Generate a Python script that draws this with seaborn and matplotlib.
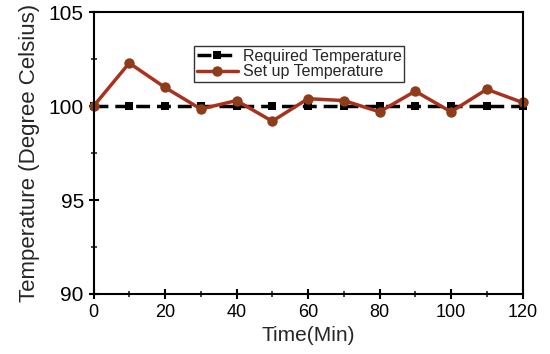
import matplotlib
matplotlib.use("Agg")
import matplotlib.pyplot as plt
import pandas as pd
import seaborn as sns
from matplotlib.ticker import MultipleLocator

# Data
time_min = [0, 10, 20, 30, 40, 50, 60, 70, 80, 90, 100, 110, 120]
required_temp = [100] * 13
setup_temp = [100.0, 102.3, 101.0, 99.85, 100.3, 99.2, 100.4, 100.3, 99.7, 100.8, 99.7, 100.9, 100.2]

df = pd.DataFrame({"time": time_min, "required": required_temp, "setup": setup_temp})

sns.set_style("ticks")
plt.rcParams['font.family'] = ['Liberation Sans', 'DejaVu Sans']

fig, ax = plt.subplots(figsize=(5.5, 3.54), dpi=100)

sns.lineplot(data=df, x="time", y="required", ax=ax, color="black", linewidth=2.5,
             linestyle=(0, (4, 2)), marker="s", markersize=6, markeredgewidth=0,
             label="Required Temperature", clip_on=False)
sns.lineplot(data=df, x="time", y="setup", ax=ax, color="#A8321E", linewidth=2.5,
             marker="o", markersize=7.5, markerfacecolor="#8e3d1a", markeredgewidth=0,
             label="Set up Temperature", clip_on=False)

ax.set_xlim(0, 120)
ax.set_ylim(90, 105)
ax.xaxis.set_major_locator(MultipleLocator(20))
ax.xaxis.set_minor_locator(MultipleLocator(10))
ax.yaxis.set_major_locator(MultipleLocator(5))
ax.yaxis.set_minor_locator(MultipleLocator(2.5))
ax.tick_params(which="major", direction="inout", length=7, width=1.5, colors="black")
ax.tick_params(axis="x", which="major", labelsize=13)
ax.tick_params(axis="y", which="major", labelsize=15)
ax.tick_params(which="minor", direction="inout", length=4, width=1.2)
for s in ax.spines.values():
    s.set_linewidth(1.5)
    s.set_color("black")

ax.set_xlabel("Time(Min)", fontsize=15)
ax.set_ylabel("Temperature (Degree Celsius)", fontsize=16, labelpad=6)

leg = ax.legend(loc="upper left", bbox_to_anchor=(0.235, 0.88), fontsize=11.5,
                frameon=True, fancybox=False, edgecolor="black", borderpad=0.15,
                handlelength=2.6, labelspacing=0.05, handletextpad=0.3,
                borderaxespad=0)
leg.get_frame().set_linewidth(1)

fig.subplots_adjust(left=0.17, right=0.95, bottom=0.17, top=0.965)
fig.savefig("out.png")
